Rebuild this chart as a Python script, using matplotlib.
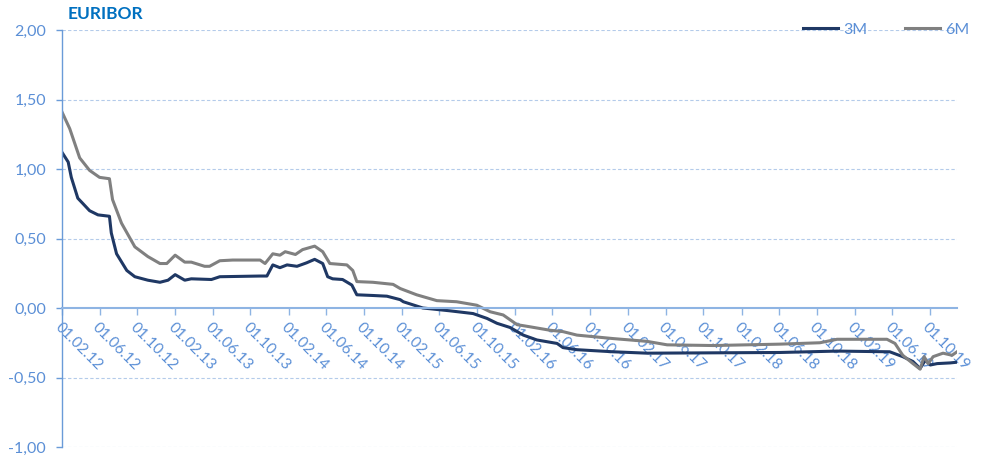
# EURIBOR 3M and 6M rates, 2012-2019

import numpy as np
import matplotlib
matplotlib.use("Agg")
import matplotlib.pyplot as plt
import matplotlib.dates as mdates
import pandas as pd

# 3M series (date, rate in %)
dates_3m = ["2012-02-01", "2012-02-21", "2012-03-02", "2012-03-23", "2012-04-09",
            "2012-04-30", "2012-05-27", "2012-07-03", "2012-07-09", "2012-07-26",
            "2012-08-28", "2012-09-23", "2012-11-04", "2012-12-13", "2013-01-08",
            "2013-01-31", "2013-03-03", "2013-03-24", "2013-05-28", "2013-06-24",
            "2013-11-01", "2013-11-23", "2013-12-12", "2014-01-04", "2014-01-27",
            "2014-02-28", "2014-03-31", "2014-04-26", "2014-05-22", "2014-06-07",
            "2014-06-23", "2014-07-25", "2014-08-24", "2014-09-09", "2014-10-31",
            "2014-12-15", "2015-01-27", "2015-02-06", "2015-04-10", "2015-07-05",
            "2015-09-19", "2015-11-03", "2015-12-05", "2016-01-16", "2016-02-28",
            "2016-04-12", "2016-06-16", "2016-07-05", "2016-08-19", "2016-12-14",
            "2017-04-02", "2018-06-05", "2018-12-06", "2019-05-25", "2019-07-06",
            "2019-08-08", "2019-08-31", "2019-09-17", "2019-10-03", "2019-10-25",
            "2019-12-06", "2019-12-28"]
rate_3m = [1.12, 1.05, 0.94, 0.79, 0.75,
           0.70, 0.67, 0.66, 0.54, 0.39,
           0.27, 0.225, 0.20, 0.185, 0.20,
           0.24, 0.20, 0.21, 0.205, 0.225,
           0.23, 0.23, 0.31, 0.29, 0.31,
           0.30, 0.325, 0.35, 0.32, 0.225,
           0.21, 0.205, 0.165, 0.095, 0.09,
           0.085, 0.06, 0.045, 0.0, -0.02,
           -0.04, -0.075, -0.11, -0.14, -0.195,
           -0.23, -0.255, -0.285, -0.30, -0.315,
           -0.325, -0.32, -0.31, -0.315, -0.35,
           -0.385, -0.435, -0.375, -0.41, -0.40,
           -0.395, -0.39]

# 6M series
dates_6m = ["2012-02-01", "2012-02-26", "2012-03-29", "2012-04-30", "2012-06-01",
            "2012-07-03", "2012-07-13", "2012-08-11", "2012-09-23", "2012-11-04",
            "2012-12-13", "2013-01-04", "2013-01-31", "2013-03-03", "2013-03-24",
            "2013-05-06", "2013-05-22", "2013-06-24", "2013-08-05", "2013-11-01",
            "2013-11-17", "2013-12-12", "2014-01-04", "2014-01-21", "2014-02-23",
            "2014-03-18", "2014-04-26", "2014-05-22", "2014-06-14", "2014-08-08",
            "2014-08-27", "2014-09-09", "2014-10-31", "2015-01-04", "2015-01-27",
            "2015-03-21", "2015-05-25", "2015-07-28", "2015-10-01", "2015-11-13",
            "2015-12-25", "2016-02-08", "2016-03-20", "2016-05-24", "2016-07-05",
            "2016-08-19", "2016-12-14", "2017-04-02", "2017-06-06", "2017-11-02",
            "2018-06-05", "2018-10-12", "2018-12-06", "2019-05-16", "2019-06-11",
            "2019-07-06", "2019-08-08", "2019-08-31", "2019-09-13", "2019-09-26",
            "2019-10-12", "2019-11-13", "2019-12-12", "2019-12-28"]
rate_6m = [1.41, 1.29, 1.08, 0.99, 0.94,
           0.93, 0.78, 0.61, 0.44, 0.37,
           0.32, 0.32, 0.38, 0.33, 0.33,
           0.30, 0.30, 0.34, 0.345, 0.345,
           0.32, 0.39, 0.38, 0.405, 0.385,
           0.42, 0.445, 0.405, 0.32, 0.31,
           0.27, 0.19, 0.185, 0.17, 0.14,
           0.095, 0.053, 0.045, 0.02, -0.027,
           -0.05, -0.12, -0.135, -0.16, -0.17,
           -0.195, -0.22, -0.24, -0.265, -0.27,
           -0.26, -0.25, -0.225, -0.225, -0.255,
           -0.34, -0.40, -0.44, -0.35, -0.40,
           -0.35, -0.325, -0.34, -0.315]

tick_dates = pd.date_range("2012-02-01", "2019-10-01", freq="4MS")
y_ticks = np.arange(-1.0, 2.01, 0.5)

blue_txt = "#5B8FD6"
axis_col = "#8EB4E3"
plt.rcParams["font.family"] = ["Lato", "DejaVu Sans"]

fig = plt.figure(figsize=(9.84, 4.61), dpi=100)
ax = fig.add_axes([62 / 984, 1 - 447 / 461, (957 - 62) / 984, (447 - 30) / 461])

ax.plot(pd.to_datetime(dates_3m), rate_3m, color="#1F3864", lw=2.2, label="3M")
ax.plot(pd.to_datetime(dates_6m), rate_6m, color="#808080", lw=2.2, label="6M")

ax.set_xlim(pd.Timestamp("2012-02-01"), pd.Timestamp("2019-12-28"))
ax.set_ylim(-1.0, 2.0)
ax.set_yticks(y_ticks)
ax.set_yticklabels([f"{v:.2f}".replace(".", ",") for v in y_ticks])
ax.set_xticks(tick_dates)
ax.xaxis.set_major_formatter(mdates.DateFormatter("%d.%m.%y"))

for v in y_ticks:
    if v != 0:
        ax.axhline(v, color="#B4CBEA", lw=0.8, ls=(0, (3, 2)), zorder=0)

for s in ["top", "right"]:
    ax.spines[s].set_visible(False)
ax.spines["bottom"].set_position(("data", 0))
ax.spines["bottom"].set_color(axis_col)
ax.spines["bottom"].set_linewidth(1.5)
ax.spines["left"].set_color("#6A9BD8")
ax.spines["left"].set_linewidth(1.0)

ax.tick_params(axis="y", colors="#6A9BD8", labelcolor=blue_txt, labelsize=11.5,
               length=4, width=1, pad=7.5)
ax.tick_params(axis="x", colors=axis_col, labelcolor=blue_txt, labelsize=11,
               length=5, width=1, pad=4)
for lbl in ax.get_xticklabels():
    lbl.set_rotation(-45)
    lbl.set_ha("left")
    lbl.set_va("top")
    lbl.set_rotation_mode("anchor")

fig.text(68 / 984, 1 - 14 / 461, "EURIBOR", color="#0070C0", fontsize=12.5,
         fontweight="bold", ha="left", va="center")

leg = ax.legend(loc="center right", bbox_to_anchor=(1.03, 1.0), ncol=2, frameon=False,
                fontsize=11.5, handlelength=2.2, handletextpad=0.3, columnspacing=2.4)
for t in leg.get_texts():
    t.set_color(blue_txt)

fig.savefig("out.png", dpi=100)
